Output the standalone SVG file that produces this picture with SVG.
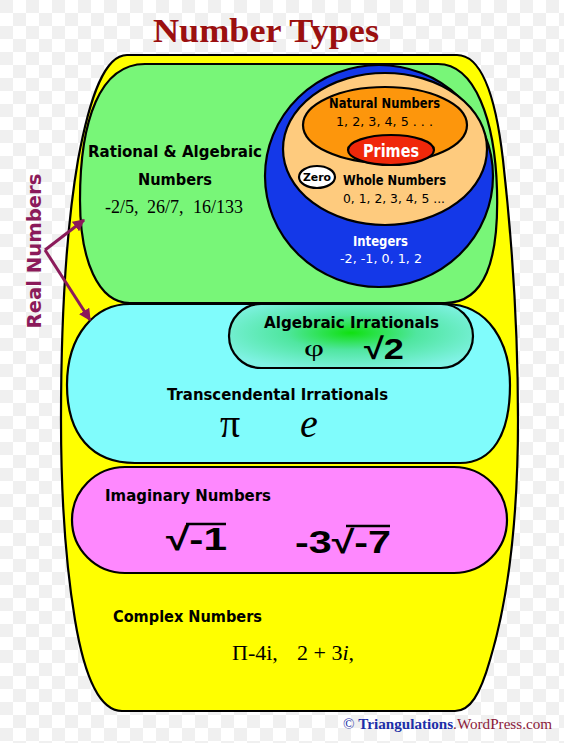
<svg xmlns="http://www.w3.org/2000/svg" width="564" height="743" viewBox="0 0 564 743">
<defs>
<pattern id="chk" width="26" height="26" patternUnits="userSpaceOnUse">
<rect width="26" height="26" fill="#ffffff"/>
<rect width="13" height="13" fill="#f0f0f0"/>
<rect x="13" y="13" width="13" height="13" fill="#f0f0f0"/>
</pattern>
<radialGradient id="alg" cx="0.5" cy="0.45" r="0.6">
<stop offset="0" stop-color="#10e010"/>
<stop offset="0.45" stop-color="#50e6a0"/>
<stop offset="1" stop-color="#80f2e4"/>
</radialGradient>
<marker id="ah" viewBox="0 0 10 10" refX="9" refY="5" markerWidth="4" markerHeight="4" orient="auto" markerUnits="strokeWidth">
<path d="M0,0 L10,5 L0,10 Z" fill="#8b1a5a"/>
</marker>
</defs>
<style>
.sh{stroke:#000;stroke-width:2.2}
.lb{font-family:"DejaVu Sans",sans-serif;font-weight:bold;fill:#000}
.nm{font-family:"DejaVu Sans",sans-serif;font-weight:normal;fill:#000}
.sr{font-family:"Liberation Serif",serif;fill:#000}
.w{fill:#fff}
</style>
<rect width="564" height="743" fill="url(#chk)"/>
<text x="266" y="42" text-anchor="middle" font-family="'Liberation Serif',serif" font-weight="bold" font-size="34" fill="#9b1010" textLength="226" lengthAdjust="spacingAndGlyphs">Number Types</text>

<g id="complex">
<path class="sh" fill="#ffff00" d="M127,55 L457,55 C480,55 495,90 503,160 C512,240 518,330 518,420 C518,520 508,600 490,660 C480,695 470,711 455,711 L122,711 C100,711 85,680 75,620 C65,560 61,500 61,420 C61,320 66,230 78,160 C90,95 105,55 127,55 Z"/>
<text class="lb" x="113" y="622" font-size="15" textLength="149" lengthAdjust="spacingAndGlyphs">Complex Numbers</text>
<text class="sr" y="660" font-size="22"><tspan x="232">Π-4i,</tspan><tspan x="297">2 + 3<tspan font-style="italic">i</tspan>,</tspan></text>
</g>

<g id="rational">
<path class="sh" fill="#78f678" d="M145,64 L438,64 C475,64 495,120 497,190 C499,260 485,303 445,303 L130,303 C98,303 80,260 80,200 C80,120 100,64 145,64 Z"/>
<text class="lb" x="88" y="157" font-size="16" textLength="174" lengthAdjust="spacingAndGlyphs">Rational &amp; Algebraic</text>
<text class="lb" x="138" y="185" font-size="16" textLength="74" lengthAdjust="spacingAndGlyphs">Numbers</text>
<text class="sr" y="213" font-size="18"><tspan x="105">-2/5,</tspan><tspan x="147">26/7,</tspan><tspan x="193">16/133</tspan></text>
</g>

<g id="integers">
<ellipse class="sh" fill="#1438e8" cx="379" cy="176" rx="114" ry="111"/>
<text class="lb w" x="353" y="246" font-size="14" textLength="55" lengthAdjust="spacingAndGlyphs">Integers</text>
<text class="nm w" x="340" y="263" font-size="13" textLength="82" lengthAdjust="spacingAndGlyphs">-2, -1, 0, 1, 2</text>
</g>

<g id="whole">
<ellipse class="sh" fill="#fecb7e" cx="385" cy="149" rx="102" ry="76"/>
<text class="lb" x="343" y="185" font-size="14" textLength="103" lengthAdjust="spacingAndGlyphs">Whole Numbers</text>
<text class="nm" x="343" y="203" font-size="13" textLength="102" lengthAdjust="spacingAndGlyphs">0, 1, 2, 3, 4, 5 ...</text>
</g>

<g id="natural">
<ellipse class="sh" fill="#fd960c" cx="385" cy="125" rx="82" ry="38"/>
<text class="lb" x="329" y="108" font-size="14" textLength="111" lengthAdjust="spacingAndGlyphs">Natural Numbers</text>
<text class="nm" x="336" y="126" font-size="13" textLength="97" lengthAdjust="spacingAndGlyphs">1, 2, 3, 4, 5 . . .</text>
</g>

<g id="primes">
<ellipse class="sh" fill="#f0280a" cx="391" cy="150" rx="43" ry="15"/>
<text class="lb w" x="363" y="157" font-size="17" textLength="56" lengthAdjust="spacingAndGlyphs">Primes</text>
</g>

<g id="zero">
<ellipse class="sh" fill="#ffffff" cx="317" cy="177" rx="18" ry="11"/>
<text class="lb" x="317" y="181" font-size="10" text-anchor="middle" textLength="28" lengthAdjust="spacingAndGlyphs">Zero</text>
</g>

<g id="transcendental">
<path class="sh" fill="#80fcfc" d="M130,304 L445,304 C490,304 510,345 510,385 C510,435 492,463 460,463 L135,463 C92,463 67,435 67,385 C67,335 95,304 130,304 Z"/>
<text class="lb" x="167" y="400" font-size="16" textLength="221" lengthAdjust="spacingAndGlyphs">Transcendental Irrationals</text>
<text class="sr" x="220" y="437" font-size="40">π</text>
<text class="sr" x="300" y="437" font-size="40" font-style="italic">e</text>
</g>

<g id="algebraic">
<rect class="sh" fill="url(#alg)" x="229" y="304" width="244" height="64" rx="32"/>
<text class="lb" x="264" y="328" font-size="16" textLength="175" lengthAdjust="spacingAndGlyphs">Algebraic Irrationals</text>
<text class="sr" x="304" y="356" font-size="24" textLength="20" lengthAdjust="spacingAndGlyphs">φ</text>
<text x="364" y="359" font-family="'Liberation Sans',sans-serif" font-weight="bold" font-size="30" fill="#000" textLength="40" lengthAdjust="spacingAndGlyphs">√2</text>
</g>

<g id="imaginary">
<rect class="sh" fill="#fe88fe" x="72" y="467" width="435" height="106" rx="53"/>
<text class="lb" x="105" y="501" font-size="16" textLength="166" lengthAdjust="spacingAndGlyphs">Imaginary Numbers</text>
<text x="166" y="550" font-family="'Liberation Sans',sans-serif" font-weight="bold" font-size="32" fill="#000" textLength="61" lengthAdjust="spacingAndGlyphs">√-1</text>
<line x1="186" y1="524" x2="226" y2="524" stroke="#000" stroke-width="2.5"/>
<text x="295" y="553" font-family="'Liberation Sans',sans-serif" font-weight="bold" font-size="32" fill="#000" textLength="96" lengthAdjust="spacingAndGlyphs">-3√-7</text>
<line x1="346" y1="526" x2="390" y2="526" stroke="#000" stroke-width="2.5"/>
</g>

<g id="real-label">
<text transform="translate(41,251) rotate(-90)" text-anchor="middle" font-family="'DejaVu Sans',sans-serif" font-weight="bold" font-size="20" fill="#8b1a5a" textLength="155" lengthAdjust="spacingAndGlyphs">Real Numbers</text>
</g>

<g id="connectors" stroke="#8b1a5a" stroke-width="3" fill="none">
<line x1="45" y1="250" x2="84" y2="220" marker-end="url(#ah)"/>
<line x1="45" y1="250" x2="90" y2="320" marker-end="url(#ah)"/>
</g>

<g id="credit">
<text x="343" y="729" font-family="'Liberation Serif',serif" font-size="14" textLength="209" lengthAdjust="spacingAndGlyphs"><tspan fill="#1c2fa8">© </tspan><tspan fill="#1c2fa8" font-weight="bold">Triangulations</tspan><tspan fill="#8b1a3a">.WordPress.com</tspan></text>
</g>
</svg>
